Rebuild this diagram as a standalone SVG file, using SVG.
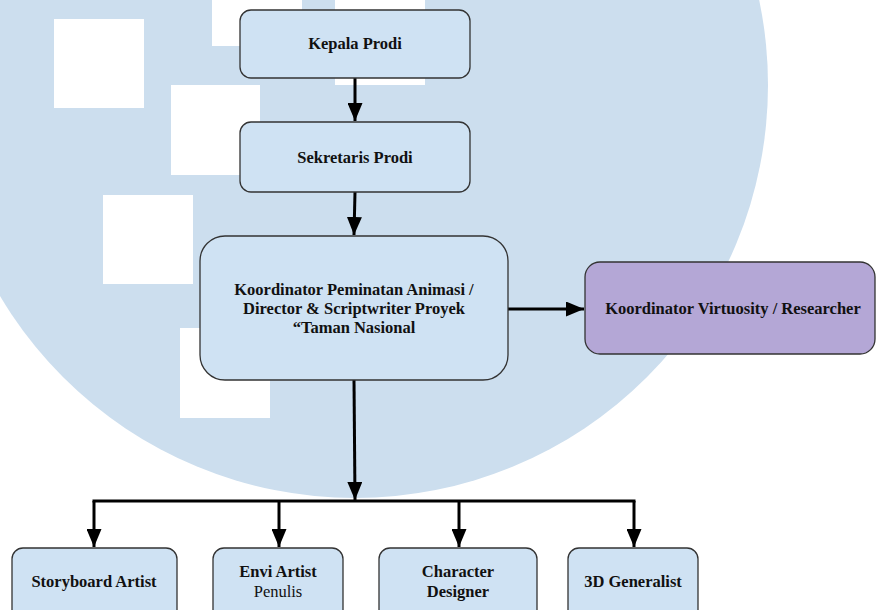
<svg xmlns="http://www.w3.org/2000/svg" width="876" height="610" viewBox="0 0 876 610">
<defs>
<style>
.bg{fill:#ccdeee}
.sq{fill:#ffffff}
.node{fill:#cfe2f3;stroke:#333333;stroke-width:1.3}
.purple{fill:#b4a7d6;stroke:#333333;stroke-width:1.3}
.t{font-family:"Liberation Serif","Times New Roman",serif;font-size:16.5px;font-weight:bold;fill:#111111;text-anchor:middle}
.r{font-weight:normal}
.c{fill:none;stroke:#000000;stroke-width:3}
</style>
<marker id="ah" viewBox="0 0 12 10" refX="12" refY="5" markerWidth="6" markerHeight="5" markerUnits="strokeWidth" orient="auto">
<path d="M0,0 L12,5 L0,10 z" fill="#000000"/>
</marker>
</defs>
<rect width="876" height="610" fill="#ffffff"/>
<g id="background">
<circle class="bg" cx="355" cy="85" r="413"/>
<rect class="sq" x="54" y="19" width="90" height="89"/>
<rect class="sq" x="171" y="85" width="89" height="90"/>
<rect class="sq" x="103" y="195" width="90" height="89"/>
<rect class="sq" x="212" y="0" width="90" height="46"/>
<rect class="sq" x="335" y="0" width="90" height="85"/>
<rect class="sq" x="180" y="328" width="90" height="90"/>
</g>
<g id="connectors">
<line class="c" x1="355" y1="78" x2="355" y2="121" marker-end="url(#ah)"/>
<line class="c" x1="355" y1="192" x2="354" y2="235" marker-end="url(#ah)"/>
<line class="c" x1="508" y1="309" x2="584" y2="309" marker-end="url(#ah)"/>
<line class="c" x1="354" y1="380" x2="355" y2="500" marker-end="url(#ah)"/>
<line class="c" x1="92.5" y1="501" x2="635.5" y2="501"/>
<line class="c" x1="94" y1="501" x2="94" y2="547" marker-end="url(#ah)"/>
<line class="c" x1="279" y1="501" x2="279" y2="547" marker-end="url(#ah)"/>
<line class="c" x1="459" y1="501" x2="459" y2="547" marker-end="url(#ah)"/>
<line class="c" x1="634" y1="501" x2="634" y2="547" marker-end="url(#ah)"/>
</g>
<g id="kepala">
<rect class="node" x="240" y="10" width="230" height="68" rx="11"/>
<text class="t" x="355" y="49">Kepala Prodi</text>
</g>
<g id="sekretaris">
<rect class="node" x="240" y="122" width="230" height="70" rx="11"/>
<text class="t" x="355" y="163">Sekretaris Prodi</text>
</g>
<g id="koordinator">
<rect class="node" x="200" y="236" width="308" height="144" rx="25"/>
<text class="t" x="354" y="295">Koordinator Peminatan Animasi /</text>
<text class="t" x="354" y="314">Director &amp; Scriptwriter Proyek</text>
<text class="t" x="354" y="333">“Taman Nasional</text>
</g>
<g id="virtuosity">
<rect class="purple" x="585" y="262" width="290" height="92" rx="15"/>
<text class="t" x="733" y="314">Koordinator Virtuosity / Researcher</text>
</g>
<g id="storyboard">
<rect class="node" x="12" y="548" width="165" height="80" rx="11"/>
<text class="t" x="94" y="587">Storyboard Artist</text>
</g>
<g id="envi">
<rect class="node" x="213" y="548" width="130" height="80" rx="11"/>
<text class="t" x="278" y="577">Envi Artist</text>
<text class="t r" x="278" y="597">Penulis</text>
</g>
<g id="character">
<rect class="node" x="379" y="548" width="158" height="80" rx="11"/>
<text class="t" x="458" y="577">Character</text>
<text class="t" x="458" y="597">Designer</text>
</g>
<g id="generalist">
<rect class="node" x="568" y="548" width="130" height="80" rx="11"/>
<text class="t" x="633" y="587">3D Generalist</text>
</g>
</svg>
